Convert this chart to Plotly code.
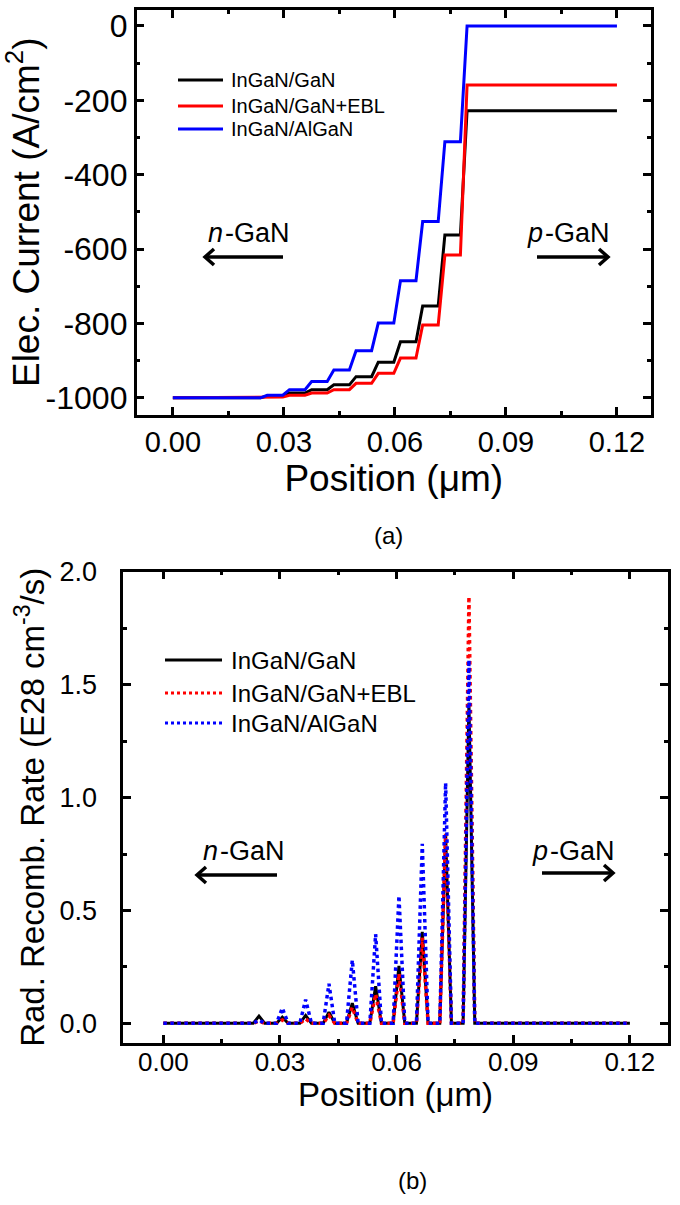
import plotly.graph_objects as go

# ---------------- data ----------------
QW_CENTERS = [0.0246, 0.0306, 0.0366, 0.0426, 0.0486, 0.0546, 0.0606, 0.0666, 0.0726, 0.0786]
X_START, X_END = 0.0, 0.12
START_CURRENT = -1000
STEP_HALF = 0.0009     # half width of a current step inside a well
PEAK_HALF = 0.0015     # half base width of a recombination peak

SERIES_NAMES = ["InGaN/GaN", "InGaN/GaN+EBL", "InGaN/AlGaN"]

# electron current plateau reached after each quantum well (A/cm^2)
current_gan = [-995, -987, -978, -965, -943, -904, -849, -753, -562, -228]
current_ebl = [-998, -993, -987, -978, -961, -934, -893, -804, -616, -159]
current_algan = [-993, -978, -956, -925, -873, -799, -685, -526, -311, 0]

# radiative recombination peak in each well (E28 cm^-3/s)
rate_gan = [0.032, 0.027, 0.035, 0.050, 0.090, 0.165, 0.255, 0.405, 0.835, 1.42]
rate_ebl = [0.010, 0.015, 0.020, 0.035, 0.070, 0.130, 0.220, 0.380, 0.840, 1.89]
rate_algan = [0.015, 0.068, 0.105, 0.175, 0.280, 0.395, 0.565, 0.795, 1.065, 1.61]

X_TICKS = [0.00, 0.03, 0.06, 0.09, 0.12]
X_TICKTEXT = ["0.00", "0.03", "0.06", "0.09", "0.12"]
Y1_TICKS = [0, -200, -400, -600, -800, -1000]
Y1_TICKTEXT = ["0", "-200", "-400", "-600", "-800", "-1000"]
Y2_TICKS = [0.0, 0.5, 1.0, 1.5, 2.0]
Y2_TICKTEXT = ["0.0", "0.5", "1.0", "1.5", "2.0"]


def step_curve(levels):
    xs, ys = [X_START], [START_CURRENT]
    prev = START_CURRENT
    for c, lv in zip(QW_CENTERS, levels):
        xs += [c - STEP_HALF, c + STEP_HALF]
        ys += [prev, lv]
        prev = lv
    xs.append(X_END)
    ys.append(prev)
    return xs, ys


def peak_curve(heights):
    xs, ys = [X_START], [0.0]
    for c, h in zip(QW_CENTERS, heights):
        xs += [c - PEAK_HALF, c, c + PEAK_HALF]
        ys += [0.0, h, 0.0]
    xs.append(X_END)
    ys.append(0.0)
    return xs, ys


W, H = 680, 1205
FONT = "Arial, 'Liberation Sans', sans-serif"


def px(x):
    return x / W


def py(y):
    return 1 - y / H


fig = go.Figure()

# ---- top panel: current ----
for levels, color, name in zip([current_gan, current_ebl, current_algan],
                               ["#000000", "#ff0000", "#0000ff"], SERIES_NAMES):
    xs, ys = step_curve(levels)
    fig.add_trace(go.Scatter(x=xs, y=ys, mode="lines", name=name, showlegend=False,
                             line=dict(color=color, width=3), xaxis="x", yaxis="y"))

# ---- bottom panel: radiative recombination ----
for heights, color, dash, width, name in zip([rate_gan, rate_ebl, rate_algan],
                                             ["#000000", "#ff0000", "#0000ff"],
                                             ["solid", "dot", "dot"], [3, 3.5, 3.5],
                                             SERIES_NAMES):
    xs, ys = peak_curve(heights)
    fig.add_trace(go.Scatter(x=xs, y=ys, mode="lines", name=name, showlegend=False,
                             line=dict(color=color, width=width, dash=dash),
                             xaxis="x2", yaxis="y2"))

axis_common = dict(showline=True, linecolor="black", linewidth=2.5, mirror="ticks",
                   ticks="inside", ticklen=8, tickwidth=2.5, tickcolor="black",
                   showgrid=False, zeroline=False, automargin=False)
minor_common = dict(ticks="inside", ticklen=4, tickwidth=2.5, tickcolor="black", tick0=0)

fig.update_layout(
    width=W, height=H, margin=dict(l=0, r=0, t=0, b=0),
    paper_bgcolor="white", plot_bgcolor="white",
    font=dict(family=FONT, color="black"),
    showlegend=False,
    xaxis=dict(domain=[px(136.6), px(651)], range=[-0.0098, 0.1292], anchor="y",
               tickvals=X_TICKS, ticktext=X_TICKTEXT, tickfont=dict(size=29),
               title=dict(text="Position (μm)", font=dict(size=37), standoff=8),
               minor=dict(minor_common, dtick=0.015), **axis_common),
    yaxis=dict(domain=[py(414.6), py(10)], range=[-1045, 43], anchor="x",
               tickvals=Y1_TICKS, ticktext=Y1_TICKTEXT, tickfont=dict(size=32),
               title=dict(text="Elec. Current (A/cm<sup>2</sup>)", font=dict(size=37), standoff=4),
               minor=dict(minor_common, dtick=100), **axis_common),
    xaxis2=dict(domain=[px(123.3), px(668)], range=[-0.0103, 0.1298], anchor="y2",
                tickvals=X_TICKS, ticktext=X_TICKTEXT, tickfont=dict(size=26),
                ticklabelstandoff=-6,
                minor=dict(minor_common, dtick=0.015), **axis_common),
    yaxis2=dict(domain=[py(1043), py(571.7)], range=[-0.087, 2.001], anchor="x2",
                tickvals=Y2_TICKS, ticktext=Y2_TICKTEXT, tickfont=dict(size=27),
                ticklabelstandoff=18,
                title=dict(text="Rad. Recomb. Rate (E28 cm<sup>-3</sup>/s)", font=dict(size=33), standoff=6),
                minor=dict(minor_common, dtick=0.25), **axis_common),
)

shapes = []
annotations = []

# bottom x-axis title sits tight under the tick labels
annotations.append(dict(xref="paper", yref="paper", x=px(395.5), y=py(1094),
                        xanchor="center", yanchor="middle", text="Position (μm)",
                        borderpad=0, showarrow=False, font=dict(size=33)))

# manual legends
legend_specs = [
    ([80, 106, 129], 178, 223, 229, 20, ["solid", "solid", "solid"]),
    ([660, 693, 723], 165, 222, 229, 24, ["solid", "dot", "dot"]),
]
colors = ["#000000", "#ff0000", "#0000ff"]
for rows, x0, x1, tx, fs, dashes in legend_specs:
    for yy, color, dash, name in zip(rows, colors, dashes, SERIES_NAMES):
        shapes.append(dict(type="line", xref="paper", yref="paper",
                           x0=px(x0), x1=px(x1), y0=py(yy), y1=py(yy),
                           line=dict(color=color, width=3, dash=dash)))
        annotations.append(dict(xref="paper", yref="paper", x=px(tx), y=py(yy),
                                xanchor="left", yanchor="middle", text=name,
                                showarrow=False, font=dict(size=fs)))

# region labels (italic letter + "-GaN") and arrows (drawn as shapes)
for (split_x, ty, letter), (tipx, tipy, tailx) in [
    ((224, 233, "n"), (205, 257, 283)),
    ((544, 233, "p"), (608, 257, 537)),
    ((219, 851, "n"), (197, 875, 277)),
    ((549, 851, "p"), (613, 873, 542)),
]:
    annotations.append(dict(xref="paper", yref="paper", x=px(split_x), y=py(ty),
                            xanchor="right", yanchor="middle", text=letter, borderpad=0,
                            showarrow=False, font=dict(size=27, style="italic")))
    annotations.append(dict(xref="paper", yref="paper", x=px(split_x), y=py(ty),
                            xanchor="left", yanchor="middle", text="-GaN", borderpad=0,
                            showarrow=False, font=dict(size=27)))
    d = 1 if tailx > tipx else -1
    shapes.append(dict(type="line", xref="paper", yref="paper",
                       x0=px(tailx), x1=px(tipx + d * 2), y0=py(tipy), y1=py(tipy),
                       line=dict(color="black", width=3.5)))
    path = "M{:.5f},{:.5f} L{:.5f},{:.5f} L{:.5f},{:.5f}".format(
        px(tipx + d * 9), py(tipy - 8), px(tipx), py(tipy), px(tipx + d * 9), py(tipy + 8))
    shapes.append(dict(type="path", xref="paper", yref="paper", path=path,
                       line=dict(color="black", width=3.5)))

annotations.append(dict(xref="paper", yref="paper", x=px(388), y=py(535), text="(a)",
                        showarrow=False, xanchor="center", yanchor="middle", font=dict(size=24)))
annotations.append(dict(xref="paper", yref="paper", x=px(413), y=py(1180), text="(b)",
                        showarrow=False, xanchor="center", yanchor="middle", font=dict(size=24)))

fig.update_layout(shapes=shapes, annotations=annotations)
fig.write_html("out.html", config={"displayModeBar": False},
               post_script="document.body.style.margin='0px';")
